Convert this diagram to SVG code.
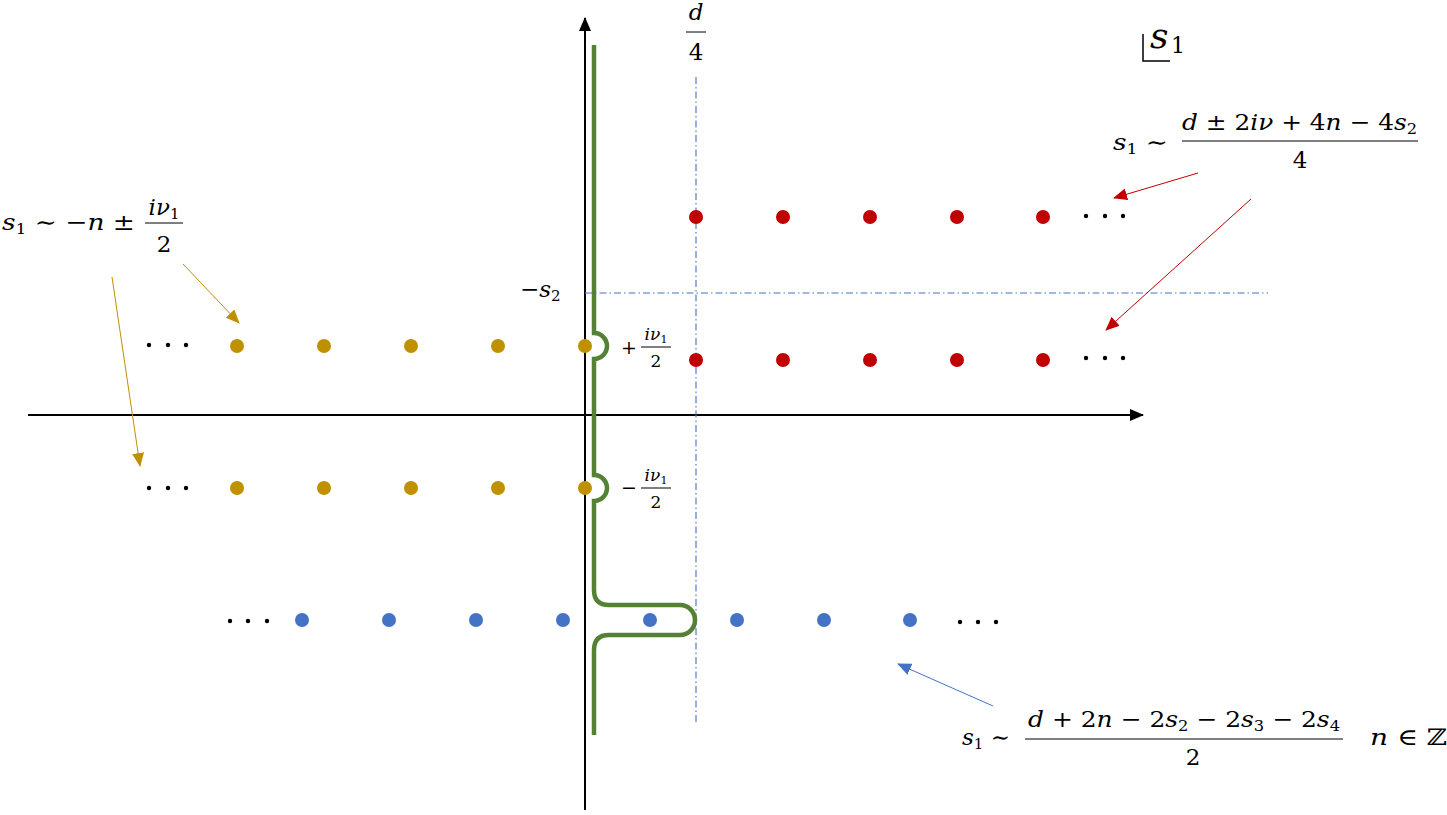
<svg xmlns="http://www.w3.org/2000/svg" width="1447" height="815" viewBox="0 0 1447 815" font-family="DejaVu Serif, serif">
<style>
text{font-family:"DejaVu Serif",serif;fill:#000}
.m{font-size:23px}
.sm{font-size:15px}
.it{font-style:italic}
.gold{fill:#BF9000}
.red{fill:#C00000}
.blue{fill:#4472C4}
.dot{fill:#000}
.dd{stroke:#4472C4;stroke-width:1.1;stroke-dasharray:7 3 1.5 3;fill:none}
.bar{stroke:#000;stroke-width:1}
</style>
<defs>
<marker id="ak" markerUnits="userSpaceOnUse" markerWidth="14" markerHeight="12" refX="13" refY="6" orient="auto"><path d="M0,0 L14,6 L0,12 z" fill="#000"/></marker>
<marker id="ar" markerUnits="userSpaceOnUse" markerWidth="14" markerHeight="12" refX="13" refY="6" orient="auto"><path d="M0,0 L14,6 L0,12 z" fill="#C00000"/></marker>
<marker id="ag" markerUnits="userSpaceOnUse" markerWidth="14" markerHeight="12" refX="13" refY="6" orient="auto"><path d="M0,0 L14,6 L0,12 z" fill="#BF9000"/></marker>
<marker id="ab" markerUnits="userSpaceOnUse" markerWidth="14" markerHeight="12" refX="13" refY="6" orient="auto"><path d="M0,0 L14,6 L0,12 z" fill="#4472C4"/></marker>
</defs>

<g id="axes">
<line x1="28" y1="415" x2="1143" y2="415" stroke="#000" stroke-width="2" marker-end="url(#ak)"/>
<line x1="585" y1="810" x2="585" y2="18" stroke="#000" stroke-width="2" marker-end="url(#ak)"/>
</g>

<g id="guides">
<line class="dd" x1="696" y1="77" x2="696" y2="725"/>
<line class="dd" x1="585" y1="293" x2="1268" y2="293"/>
</g>

<g id="contour">
<path d="M594,45 V333 A13,13 0 0 1 594,359 V475 A13,13 0 0 1 594,501 V590 Q594,605 609,605 H680 A15,15 0 0 1 680,635 H609 Q594,635 594,650 V735" fill="none" stroke="#548235" stroke-width="4.5"/>
</g>

<g id="red-poles">
<circle class="red" cx="696" cy="217" r="7"/><circle class="red" cx="783" cy="217" r="7"/><circle class="red" cx="870" cy="217" r="7"/><circle class="red" cx="957" cy="217" r="7"/><circle class="red" cx="1043" cy="217" r="7"/>
<circle class="dot" cx="1086" cy="216" r="2.2"/><circle class="dot" cx="1105" cy="216" r="2.2"/><circle class="dot" cx="1123" cy="216" r="2.2"/>
<circle class="red" cx="696" cy="360" r="7"/><circle class="red" cx="783" cy="360" r="7"/><circle class="red" cx="870" cy="360" r="7"/><circle class="red" cx="957" cy="360" r="7"/><circle class="red" cx="1043" cy="360" r="7"/>
<circle class="dot" cx="1086" cy="358" r="2.2"/><circle class="dot" cx="1105" cy="358" r="2.2"/><circle class="dot" cx="1123" cy="358" r="2.2"/>
</g>

<g id="gold-poles">
<circle class="dot" cx="149" cy="345" r="2.2"/><circle class="dot" cx="168" cy="345" r="2.2"/><circle class="dot" cx="186" cy="345" r="2.2"/>
<circle class="gold" cx="237" cy="346" r="7"/><circle class="gold" cx="324" cy="346" r="7"/><circle class="gold" cx="411" cy="346" r="7"/><circle class="gold" cx="498" cy="346" r="7"/><circle class="gold" cx="585" cy="346" r="7"/>
<circle class="dot" cx="149" cy="488" r="2.2"/><circle class="dot" cx="168" cy="488" r="2.2"/><circle class="dot" cx="186" cy="488" r="2.2"/>
<circle class="gold" cx="237" cy="488" r="7"/><circle class="gold" cx="324" cy="488" r="7"/><circle class="gold" cx="411" cy="488" r="7"/><circle class="gold" cx="498" cy="488" r="7"/><circle class="gold" cx="585" cy="488" r="7"/>
</g>

<g id="blue-poles">
<circle class="dot" cx="230" cy="621" r="2.2"/><circle class="dot" cx="248" cy="621" r="2.2"/><circle class="dot" cx="267" cy="621" r="2.2"/>
<circle class="blue" cx="302" cy="620" r="7"/><circle class="blue" cx="389" cy="620" r="7"/><circle class="blue" cx="476" cy="620" r="7"/><circle class="blue" cx="563" cy="620" r="7"/><circle class="blue" cx="650" cy="620" r="7"/><circle class="blue" cx="737" cy="620" r="7"/><circle class="blue" cx="824" cy="620" r="7"/><circle class="blue" cx="910" cy="620" r="7"/>
<circle class="dot" cx="960" cy="622" r="2.2"/><circle class="dot" cx="978" cy="622" r="2.2"/><circle class="dot" cx="996" cy="622" r="2.2"/>
</g>

<g id="connectors" fill="none" stroke-width="1">
<line x1="1198" y1="173" x2="1114" y2="198" stroke="#C00000" marker-end="url(#ar)"/>
<line x1="1251" y1="199" x2="1106" y2="330" stroke="#C00000" marker-end="url(#ar)"/>
<line x1="183" y1="264" x2="239" y2="323" stroke="#BF9000" marker-end="url(#ag)"/>
<line x1="112" y1="277" x2="140" y2="466" stroke="#BF9000" marker-end="url(#ag)"/>
<line x1="993" y1="706" x2="898" y2="664" stroke="#4472C4" marker-end="url(#ab)"/>
</g>

<g id="label-d4">
<text class="m it" x="696" y="20" text-anchor="middle">d</text>
<line class="bar" x1="686" y1="32" x2="706" y2="32"/>
<text class="m" x="696" y="60" text-anchor="middle">4</text>
</g>

<g id="label-s2">
<text class="m" x="520" y="297">−<tspan class="it">s</tspan><tspan class="sm" dy="4">2</tspan></text>
</g>

<g id="label-s1-plane">
<path d="M1143,34 V61 H1170" fill="none" stroke="#000" stroke-width="1.5"/>
<text x="1150" y="48" style="font-size:36px;font-style:italic">s</text>
<text x="1171" y="53" style="font-size:22px">1</text>
</g>

<g id="label-plus">
<text x="621" y="354" style="font-size:19px">+</text>
<text x="656" y="340" text-anchor="middle" style="font-size:17px"><tspan class="it">iν</tspan><tspan style="font-size:11px" dy="3">1</tspan></text>
<line class="bar" x1="641" y1="347" x2="671" y2="347" stroke-width="0.8"/>
<text x="656" y="367" text-anchor="middle" style="font-size:17px">2</text>
</g>

<g id="label-minus">
<text x="621" y="494" style="font-size:19px">−</text>
<text x="656" y="481" text-anchor="middle" style="font-size:17px"><tspan class="it">iν</tspan><tspan style="font-size:11px" dy="3">1</tspan></text>
<line class="bar" x1="641" y1="488" x2="671" y2="488" stroke-width="0.8"/>
<text x="656" y="508" text-anchor="middle" style="font-size:17px">2</text>
</g>

<g id="label-gold">
<text class="m" x="2" y="230" textLength="133" lengthAdjust="spacingAndGlyphs"><tspan class="it">s</tspan><tspan class="sm" dy="4">1</tspan><tspan dy="-4"> ∼ −</tspan><tspan class="it">n</tspan> ±</text>
<text class="m" x="164" y="215" text-anchor="middle"><tspan class="it">iν</tspan><tspan class="sm" dy="4">1</tspan></text>
<line class="bar" x1="145" y1="223" x2="183" y2="223"/>
<text class="m" x="164" y="252" text-anchor="middle">2</text>
</g>

<g id="label-red">
<text class="m" x="1113" y="150" textLength="55" lengthAdjust="spacingAndGlyphs"><tspan class="it">s</tspan><tspan class="sm" dy="4">1</tspan><tspan dy="-4"> ∼</tspan></text>
<text class="m" x="1182" y="130" textLength="235" lengthAdjust="spacingAndGlyphs"><tspan class="it">d</tspan> ± 2<tspan class="it">iν</tspan> + 4<tspan class="it">n</tspan> − 4<tspan class="it">s</tspan><tspan class="sm" dy="4">2</tspan></text>
<line class="bar" x1="1182" y1="141" x2="1418" y2="141"/>
<text class="m" x="1300" y="168" text-anchor="middle">4</text>
</g>

<g id="label-blue">
<text class="m" x="962" y="745" textLength="48" lengthAdjust="spacingAndGlyphs"><tspan class="it">s</tspan><tspan class="sm" dy="4">1</tspan><tspan dy="-4"> ∼</tspan></text>
<text class="m" x="1028" y="727" textLength="312" lengthAdjust="spacingAndGlyphs"><tspan class="it">d</tspan> + 2<tspan class="it">n</tspan> − 2<tspan class="it">s</tspan><tspan class="sm" dy="4">2</tspan><tspan dy="-4"> − 2</tspan><tspan class="it">s</tspan><tspan class="sm" dy="4">3</tspan><tspan dy="-4"> − 2</tspan><tspan class="it">s</tspan><tspan class="sm" dy="4">4</tspan></text>
<line class="bar" x1="1025" y1="739" x2="1343" y2="739"/>
<text class="m" x="1193" y="765" text-anchor="middle">2</text>
<text class="m" x="1370" y="745" textLength="77" lengthAdjust="spacingAndGlyphs"><tspan class="it">n</tspan> ∈ ℤ</text>
</g>
</svg>
